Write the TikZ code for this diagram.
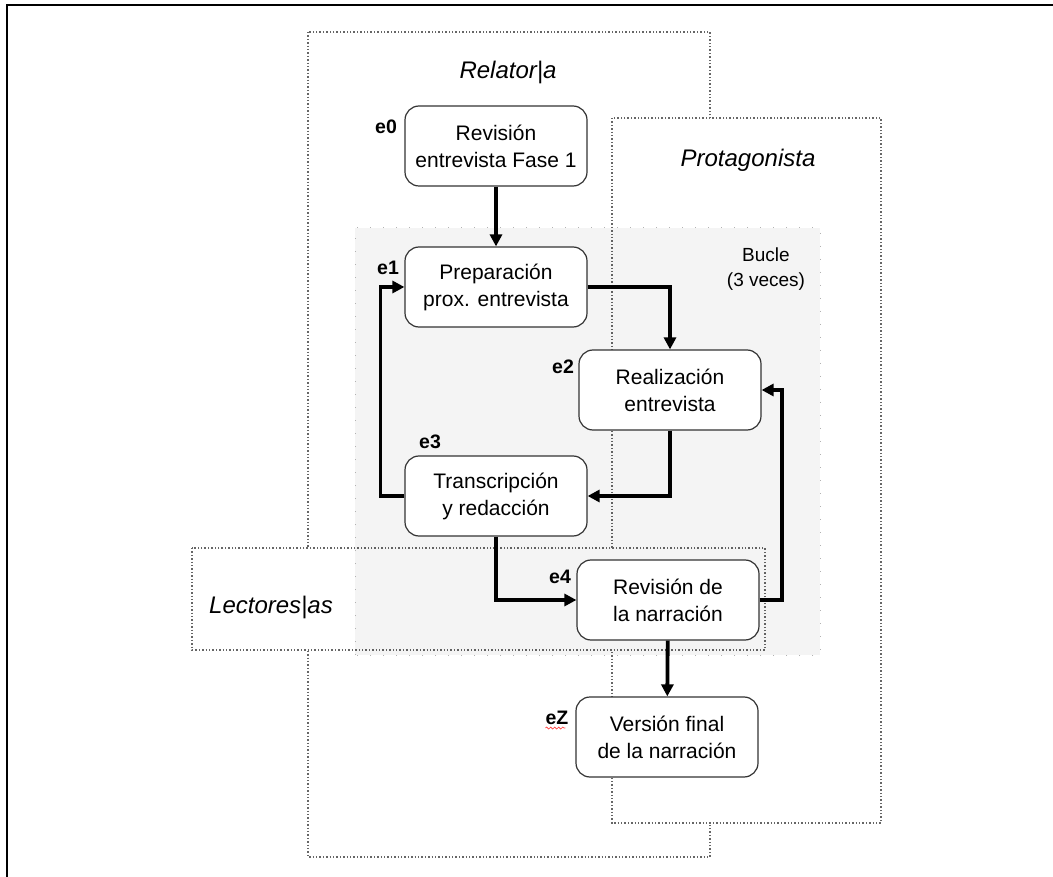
\documentclass[tikz,border=0pt]{standalone}
\usepackage{fontspec}
\setmainfont{Liberation Sans}
\usetikzlibrary{arrows.meta,decorations.pathmorphing}
\begin{document}
\begin{tikzpicture}[x=1pt,y=-1pt,
  procbox/.style={draw=black!80,line width=1.2pt,fill=white,rounded corners=14pt,
    minimum width=182pt,minimum height=80pt,align=center,inner sep=0pt,
    font=\fontsize{21}{27}\selectfont},
  lbl/.style={font=\fontsize{19.5}{22}\bfseries\selectfont,inner sep=0pt},
  arr/.style={line width=3.8pt,-{Triangle[length=12pt,width=12pt]}},
  zone/.style={draw=black!60,line width=1.4pt,dotted,fill=white},
  ztitle/.style={font=\fontsize{24}{26}\itshape\selectfont,inner sep=0pt}
]
\useasboundingbox (0,0) rectangle (1053,877);
\fill[white] (0,0) rectangle (1053,877);
% outer frame (top and left visible)
\draw[line width=2pt] (7,877) -- (7,5) -- (1053,5);

% zones
\draw[zone] (308,32) rectangle (710,857);
\draw[zone] (612,118) rectangle (881,823);
\draw[zone] (192,548) rectangle (765,650);
\fill[black,fill opacity=0.045] (355,228) rectangle (820,655);
\draw[black!30,line width=1pt,dash pattern=on 1pt off 12pt] (355,655) -- (355,228) -- (820,228) -- (820,655) -- cycle;

\node[ztitle] (trel) at (508,72) {Relator|a};
\node[ztitle] (tpro) at (748,160) {Protagonista};
\node[ztitle] (tlec) at (271,607) {Lectores|as};
\node[align=center,inner sep=0pt,font=\fontsize{19}{25}\selectfont] (tbuc) at (766,269) {Bucle\\(3 veces)};

% process boxes
\node[procbox] (e0) at (496,146) {Revisión\\entrevista Fase 1};
\node[procbox] (e1) at (496,287) {Preparación\\prox. entrevista};
\node[procbox] (e2) at (670,390) {Realización\\entrevista};
\node[procbox] (e3) at (496,496) {Transcripción\\y redacción};
\node[procbox] (e4) at (668,600) {Revisión de\\la narración};
\node[procbox] (eZ) at (667,737) {Versión final\\de la narración};

% step labels
\node[lbl] (l0) at (386,127) {e0};
\node[lbl] (l1) at (388,268) {e1};
\node[lbl] (l2) at (563,367) {e2};
\node[lbl] (l3) at (430,442) {e3};
\node[lbl] (l4) at (560,577) {e4};
\node[lbl] (lZ) at (557,718) {eZ};
\draw[red!80,line width=0.6pt,decorate,decoration={snake,amplitude=1pt,segment length=4pt}]
  (lZ.south west) ++(0,3) -- ++(20,0);

% connectors
\draw[arr] (e0) -- (e1);
\draw[arr] (e1.east) -| (e2.north);
\draw[arr] (e2.south) |- (e3.east);
\draw[arr] (e3.west) -- ++(-24,0) |- (e1.west);
\draw[arr] (e3.south) |- (e4.west);
\draw[arr] (e4.east) -- ++(22,0) |- (e2.east);
\draw[arr] (e4) -- (eZ);
\end{tikzpicture}
\end{document}
